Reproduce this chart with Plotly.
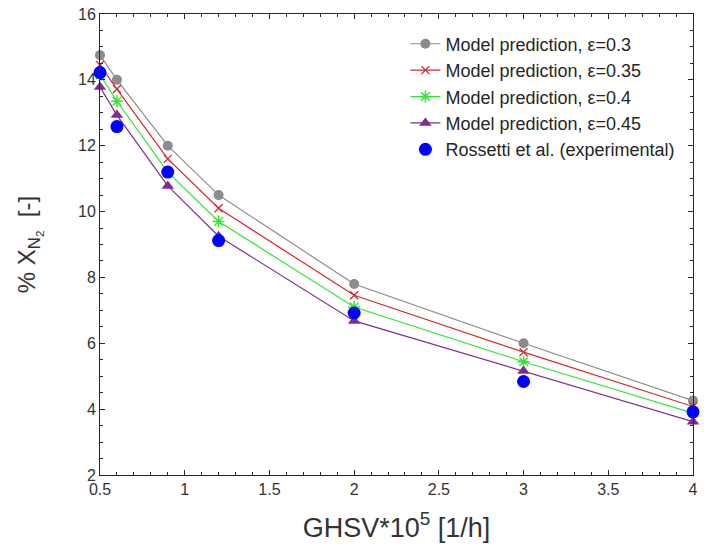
import plotly.graph_objects as go

ghsv = [0.5, 0.6, 0.9, 1.2, 2, 3, 4]
eps_03 = [14.75, 14.0, 12.0, 10.5, 7.8, 6.0, 4.26]
eps_035 = [14.45, 13.72, 11.6, 10.1, 7.46, 5.73, 4.08]
eps_04 = [14.15, 13.35, 11.2, 9.7, 7.1, 5.44, 3.88]
eps_045 = [13.78, 12.93, 10.78, 9.25, 6.68, 5.16, 3.62]
exp_x = [0.5, 0.6, 0.9, 1.2, 2, 3, 4]
exp_y = [14.22, 12.58, 11.2, 9.12, 6.92, 4.84, 3.92]

font_family = "Liberation Sans, Arial, Helvetica, sans-serif"

fig = go.Figure()
fig.add_trace(go.Scatter(x=ghsv, y=eps_03, mode="lines+markers", name="Model prediction, ε=0.3",
                         cliponaxis=False,
                         line=dict(color="#8c8c8c", width=1.2),
                         marker=dict(symbol="circle", size=10, color="#8c8c8c")))
fig.add_trace(go.Scatter(x=ghsv, y=eps_035, mode="lines+markers", name="Model prediction, ε=0.35",
                         cliponaxis=False,
                         line=dict(color="#d9262b", width=1.2),
                         marker=dict(symbol="x-thin", size=8, color="#d9262b",
                                     line=dict(color="#d9262b", width=1.3))))
fig.add_trace(go.Scatter(x=ghsv, y=eps_04, mode="lines+markers", name="Model prediction, ε=0.4",
                         cliponaxis=False,
                         line=dict(color="#33e633", width=1.2),
                         marker=dict(symbol="asterisk", size=10, color="#33e633",
                                     line=dict(color="#33e633", width=1.5))))
fig.add_trace(go.Scatter(x=ghsv, y=eps_045, mode="lines+markers", name="Model prediction, ε=0.45",
                         cliponaxis=False,
                         line=dict(color="#7e2f8e", width=1.2),
                         marker=dict(symbol="triangle-up", size=11, color="#7e2f8e")))
fig.add_trace(go.Scatter(x=exp_x, y=exp_y, mode="markers", name="Rossetti et al. (experimental)",
                         cliponaxis=False,
                         marker=dict(symbol="circle", size=13, color="#0000ff")))

axis_common = dict(
    showgrid=False, zeroline=False, showline=True, linecolor="#262626", linewidth=1,
    mirror="allticks", ticks="inside", ticklen=5, tickcolor="#262626",
    tickfont=dict(family=font_family, size=16, color="#333333"),
)

fig.update_xaxes(range=[0.5, 4.0000001], tickvals=[0.5, 1, 1.5, 2, 2.5, 3, 3.5, 4],
                 ticktext=["0.5", "1", "1.5", "2", "2.5", "3", "3.5", "4"],
                 minor=dict(dtick=0.1, tick0=0.5, ticks="inside", ticklen=3, tickcolor="#262626"),
                 title=dict(text="GHSV*10<sup>5</sup> [1/h]",
                            font=dict(family=font_family, size=27, color="#333333"), standoff=20),
                 **axis_common)
fig.update_yaxes(range=[2, 16], dtick=2,
                 minor=dict(dtick=0.5, ticks="inside", ticklen=3, tickcolor="#262626"),
                 title=dict(text="% X<sub>N<sub>2</sub></sub>  [-]",
                            font=dict(family=font_family, size=24, color="#333333"), standoff=35),
                 **axis_common)

fig.update_layout(
    width=704, height=558,
    margin=dict(l=100, r=6, t=12, b=83),
    paper_bgcolor="white", plot_bgcolor="white",
    font=dict(family=font_family, color="#262626"),
    showlegend=True,
    legend=dict(x=0.515, y=0.975, xanchor="left", yanchor="top",
                bgcolor="rgba(255,255,255,0)", borderwidth=0,
                font=dict(family=font_family, size=18, color="#262626"),
                tracegroupgap=0, itemwidth=30),
)

fig.write_html("out.html", config={"displayModeBar": False},
               post_script="document.body.style.margin='0';document.body.style.overflow='hidden';")
